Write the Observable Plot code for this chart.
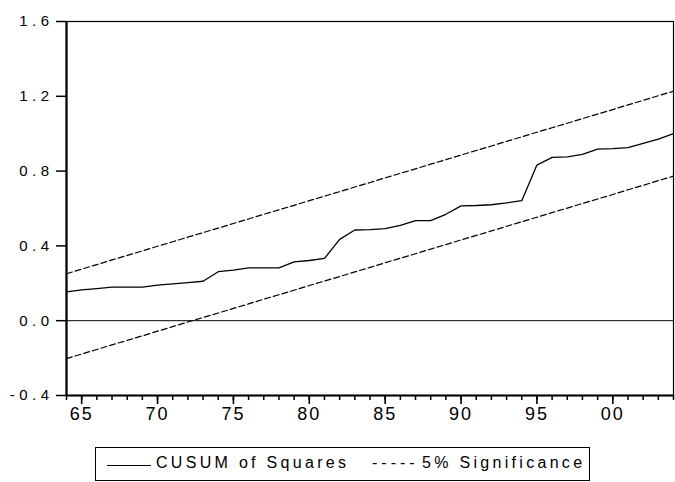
<!DOCTYPE html>
<html>
<head>
<meta charset="utf-8">
<script src="https://cdn.jsdelivr.net/npm/d3@7"></script>
<script src="https://cdn.jsdelivr.net/npm/@observablehq/plot@0.6"></script>
<style>
  body { margin: 0; background: #fff; color: #000; font-family: "Liberation Sans", Arial, sans-serif; }
  #chart svg { display: block; }
  #legend { position: relative; margin-left: 95px; width: 493px; height: 32px; border: 1px solid #000; margin-top: 7px; font-size: 16px; letter-spacing: 3.3px; color: #000; }
  #legend .item { position: absolute; top: 6px; white-space: nowrap; }
  #legend .swatch { position: absolute; top: 17px; left: 11px; width: 44px; border-top: 1.3px solid #000; }
</style>
</head>
<body>
<div id="chart"></div>
<div id="legend">
  <div class="swatch"></div>
  <div class="item" style="left:60px">CUSUM of Squares</div>
  <div class="item" style="left:276px;letter-spacing:4px">-----</div>
  <div class="item" style="left:326px">5% Significance</div>
</div>
<script>
const years = d3.range(1964, 2005);
const cusum = [0.154, 0.165, 0.172, 0.180, 0.180, 0.180, 0.190, 0.197, 0.204, 0.211,
  0.262, 0.270, 0.283, 0.283, 0.283, 0.315, 0.322, 0.333, 0.435, 0.485,
  0.487, 0.492, 0.510, 0.535, 0.535, 0.569, 0.614, 0.616, 0.620, 0.630,
  0.642, 0.832, 0.873, 0.876, 0.890, 0.917, 0.920, 0.926, 0.948, 0.971, 1.000];
const upper = [0.251, 0.276, 0.300, 0.325, 0.349, 0.373, 0.398, 0.422, 0.447, 0.471,
  0.495, 0.520, 0.544, 0.569, 0.593, 0.617, 0.642, 0.666, 0.690, 0.715,
  0.739, 0.764, 0.788, 0.812, 0.837, 0.861, 0.886, 0.910, 0.934, 0.959,
  0.983, 1.008, 1.032, 1.056, 1.081, 1.105, 1.129, 1.154, 1.178, 1.203, 1.227];
const lower = [-0.203, -0.178, -0.154, -0.129, -0.105, -0.081, -0.056, -0.032, -0.007, 0.017,
  0.041, 0.066, 0.090, 0.115, 0.139, 0.163, 0.188, 0.212, 0.236, 0.261,
  0.285, 0.310, 0.334, 0.358, 0.383, 0.407, 0.432, 0.456, 0.480, 0.505,
  0.529, 0.553, 0.578, 0.602, 0.627, 0.651, 0.675, 0.700, 0.724, 0.749, 0.773];
const xMajorTicks = [1965, 1970, 1975, 1980, 1985, 1990, 1995, 2000];
const yTicks = [-0.4, 0.0, 0.4, 0.8, 1.2, 1.6];

const rows = years.map((y, i) => ({year: y, cusum: cusum[i], upper: upper[i], lower: lower[i]}));

const W = 675, H = 440, ML = 66, MR = 2, MT = 21, MB = 45;
const innerW = W - ML - MR, innerH = H - MT - MB;

const plot = Plot.plot({
  width: W,
  height: H,
  marginLeft: ML,
  marginRight: MR,
  marginTop: MT,
  marginBottom: MB,
  x: {domain: [1964, 2004]},
  y: {domain: [-0.4, 1.6]},
  marks: [
    Plot.frame({stroke: "#000", strokeWidth: 1.2}),
    Plot.ruleY([0], {stroke: "#000", strokeWidth: 1}),
    Plot.line(rows, {x: "year", y: "upper", stroke: "#000", strokeWidth: 1.2, strokeDasharray: "6,3"}),
    Plot.line(rows, {x: "year", y: "lower", stroke: "#000", strokeWidth: 1.2, strokeDasharray: "6,3"}),
    Plot.line(rows, {x: "year", y: "cusum", stroke: "#000", strokeWidth: 1.3}),
    Plot.ruleX([1964], {stroke: "#000", strokeWidth: 2.2}),
    Plot.ruleY([-0.4], {stroke: "#000", strokeWidth: 2.2}),
    // minor and major x ticks, below the axis
    Plot.tickX(years, {x: d => d, stroke: "#000", strokeWidth: 1.5, insetTop: innerH - 5, dy: 5}),
    Plot.tickX(xMajorTicks, {x: d => d, stroke: "#000", strokeWidth: 1.6, insetTop: innerH - 9, dy: 9}),
    // y ticks, left of the axis
    Plot.tickY(yTicks, {y: d => d, stroke: "#000", strokeWidth: 1.5, insetRight: innerW - 10, dx: -10}),
    Plot.axisX({ticks: xMajorTicks, tickSize: 0, tickPadding: 12, fontSize: 18, label: null,
      fill: "#000", fontFamily: "Liberation Sans, Arial, sans-serif",
      tickFormat: d => String(d % 100).padStart(2, "0")}),
    Plot.axisY({ticks: yTicks, tickSize: 0, tickPadding: 13, fontSize: 15, label: null,
      fill: "#000", fontFamily: "Liberation Sans, Arial, sans-serif",
      tickFormat: d => d.toFixed(1)})
  ]
});
document.getElementById("chart").appendChild(plot);
d3.select(plot).selectAll('g[aria-label="y-axis tick label"] text').style("letter-spacing", "4.5px");
d3.select(plot).selectAll('g[aria-label="x-axis tick label"] text').style("letter-spacing", "2px");
</script>
</body>
</html>
